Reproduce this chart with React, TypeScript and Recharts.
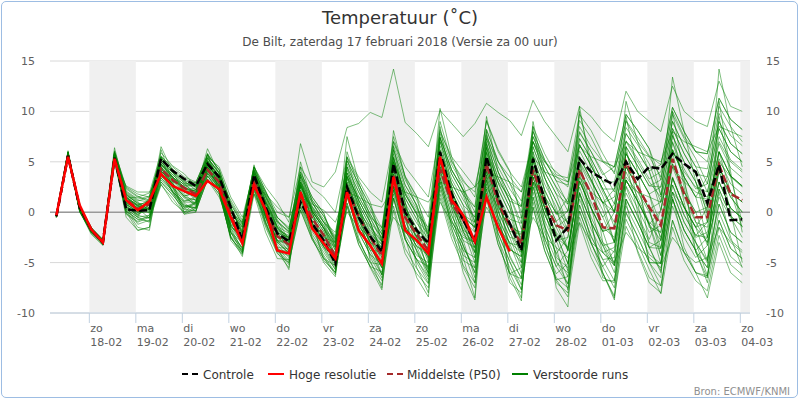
import {
  LineChart,
  Line,
  XAxis,
  YAxis,
  CartesianGrid,
  ReferenceArea,
  ReferenceLine,
} from 'recharts';

// hours since zaterdag 17-02 00:00, 6-hourly steps
const HOURS = [
  7, 13, 19, 25, 31, 37, 43, 49, 55, 61, 67, 73, 79, 85, 91, 97, 103, 109, 115, 121,
  127, 133, 139, 145, 151, 157, 163, 169, 175, 181, 187, 193, 199, 205, 211, 217, 223, 229, 235, 241,
  247, 253, 259, 265, 271, 277, 283, 289, 295, 301, 307, 313, 319, 325, 331, 337, 343, 349, 355, 361,
];

const DAY_TICKS = [24, 48, 72, 96, 120, 144, 168, 192, 216, 240, 264, 288, 312, 336, 360];
const DAY_NAMES = ['zo', 'ma', 'di', 'wo', 'do', 'vr', 'za', 'zo', 'ma', 'di', 'wo', 'do', 'vr', 'za', 'zo'];
const DAY_DATES = ['18-02', '19-02', '20-02', '21-02', '22-02', '23-02', '24-02', '25-02', '26-02', '27-02', '28-02', '01-03', '02-03', '03-03', '04-03'];
const SHADED_DAYS = [24, 72, 120, 168, 216, 264, 312, 360];
const Y_TICKS = [-10, -5, 0, 5, 10, 15];

const CONTROLE = [
  -0.4, 5.6, 0.5, -1.7, -3.0, 5.4, 0.3, 0.15, 0.2, 5.3, 4.1, 3.3, 2.6, 4.8, 3.5, 0.5,
  -2.8, 3.7, 0.5, -2.1, -2.9, 1.0, -1.1, -2.8, -5.1, 2.5, -0.5, -2.4, -3.9, 4.8, 0.0, -1.8,
  -3.1, 6.0, 1.8, -0.8, -2.9, 5.5, 1.5, -1.1, -3.8, 5.3, 1.2, -2.8, -1.5, 5.3, 4.0, 3.3,
  2.7, 5.0, 3.3, 4.5, 4.3, 5.8, 4.8, 4.0, 0.9, 4.7, -0.8, -0.7,
];

const HOGE_RESOLUTIE = [
  -0.3, 5.5, 0.7, -1.7, -3.0, 5.3, 1.2, 0.2, 1.1, 3.8, 2.6, 2.1, 1.6, 3.1, 2.3, -0.5,
  -3.1, 2.7, 0.2, -3.8, -4.1, 2.0, -1.6, -3.1, -4.6, 2.0, -1.8, -3.3, -5.1, 3.5, -1.8, -2.8,
  -4.1, 5.5, 1.2, -0.3, -2.9, 1.5, -1.5, -3.9,
];

const MIDDELSTE = [
  -0.4, 5.6, 0.5, -1.8, -3.0, 5.3, 1.3, 0.3, 0.8, 4.3, 3.2, 2.4, 1.8, 4.2, 3.0, -0.3,
  -2.7, 3.2, 0.2, -2.4, -3.2, 1.8, -0.6, -2.3, -4.4, 2.3, -0.4, -2.5, -4.3, 3.6, -0.5, -2.2,
  -3.8, 4.3, 0.9, -0.8, -2.9, 4.8, 0.9, -1.3, -3.1, 4.2, 0.9, -1.3, -1.8, 4.2, 1.8, -1.5,
  -1.6, 5.0, 2.5, 0.5, -1.3, 5.3, 1.8, -0.5, -0.5, 4.7, 1.8, 1.2,
];

// verstoorde runs (ensemble members)
const M01 = [-0.4,5.9,0.4,-1.7, -2.9,5.7,1.5,0.7, 1.1,5.0,3.7,2.7, 2.0,5.0,3.5,-0.2, -2.4,3.5,0.5,-2.1, -3.6,1.7,-1.1,-2.8, -5.1,1.8,-1.6,-3.8, -3.9,4.2,0.5,-1.6, -2.9,6.6,3.3,1.2, -0.5,7.3,4.0,1.7, -1.7,6.0,2.8,0.5, -3.8,3.1,0.4,-1.9, -1.5,4.5,2.5,0.3, 1.0,6.9,4.3,2.3, 2.8,8.3,6.0,5.0];
const M02 = [-0.5,5.7,0.2,-2.0, -3.2,5.2,0.3,-0.5, -0.3,3.4,2.1,0.7, 0.4,3.6,2.1,-2.0, -3.9,2.3,-1.3,-3.9, -4.3,1.0,-1.9,-3.7, -5.7,0.9,-2.8,-5.0, -6.8,0.6,-3.6,-5.6, -7.1,1.8,-2.1,-4.8, -5.5,2.8,-1.6,-4.3, -6.6,1.5,-2.6,-5.4, -7.1,0.1,-3.1,-5.4, -3.8,2.6,0.4,-2.0, -1.3,4.8,2.0,0.0, 0.5,6.0,3.6,2.6];
const M03 = [-0.3,6.0,0.5,-1.6, -2.8,5.9,2.1,1.3, 1.6,5.6,4.3,3.3, 2.9,5.7,4.2,0.8, -1.2,4.5,2.1,-0.5, -1.7,4.0,1.5,-0.1, -3.1,4.5,2.0,-0.2, -2.2,6.2,2.7,0.7, -2.2,7.4,4.2,2.2, 0.5,8.2,5.0,2.9, 1.1,8.5,5.8,3.7, 3.4,9.7,8.1,5.8, 3.8,9.1,7.4,5.6, 4.7,10.4,8.0,6.0, 5.8,11.3,9.2,8.2];
const M04 = [-0.4,5.7,0.2,-1.9, -3.2,5.2,0.1,-0.7, -0.5,3.2,1.9,0.5, 1.0,4.1,2.6,-1.4, -2.4,3.5,0.5,-2.1, -2.5,3.0,0.3,-1.3, -3.8,3.6,0.8,-1.4, -4.5,3.4,-0.5,-2.5, -5.7,3.4,-0.3,-2.8, -6.5,1.9,-2.7,-5.5, -7.7,0.5,-3.8,-6.7, -8.4,-1.1,-4.5,-6.8, -6.8,-0.1,-2.4,-5.0, -5.1,1.3,-1.8,-3.8, -7.0,-1.5,-4.4,-5.4];
const M05 = [-0.3,5.9,0.5,-1.6, -2.9,5.6,1.4,0.6, 0.8,4.7,3.4,2.2, 2.2,5.1,3.6,0.0, -1.5,4.2,1.7,-0.9, -1.9,3.7,1.2,-0.4, -2.4,5.4,3.2,1.0, -2.9,5.4,1.8,-0.2, -4.3,5.0,1.5,-0.8, -2.0,5.9,2.3,-0.1, -0.6,7.0,4.0,1.8, 0.8,7.3,5.3,3.0, 3.0,8.4,6.7,4.8, 1.7,7.6,5.0,3.0, 0.5,6.0,3.6,2.6];
const M06 = [-0.5,5.7,0.1,-2.0, -3.0,5.5,1.0,0.2, 0.2,3.9,2.6,1.4, 0.8,3.9,2.4,-1.6, -3.0,3.0,-0.2,-2.8, -3.2,2.2,-0.5,-2.2, -4.9,2.1,-1.2,-3.4, -5.5,2.2,-1.8,-3.8, -6.4,2.6,-1.2,-3.8, -7.0,1.4,-3.2,-6.1, -5.5,2.5,-1.4,-4.1, -2.5,4.3,1.8,-0.5, 0.8,6.5,4.6,2.6, 3.2,9.0,6.5,4.5, 4.3,9.8,7.6,6.6];
const M07 = [-0.4,5.8,0.3,-1.8, -2.8,5.8,1.7,0.9, 0.7,4.5,3.2,2.0, 1.5,4.5,3.0,-0.8, -3.0,3.0,-0.2,-2.8, -4.1,1.2,-1.6,-3.4, -4.6,2.4,-0.8,-3.0, -3.5,4.6,0.9,-1.1, -2.6,7.0,3.8,1.7, 0.5,8.2,5.1,2.9, 0.0,7.5,4.6,2.4, 0.1,6.7,4.6,2.3, 0.0,5.8,3.9,1.8, -2.8,3.4,0.5,-1.5, -4.8,0.8,-2.0,-3.0];
const M08 = [-0.4,5.8,0.3,-1.8, -3.0,5.4,0.8,0.0, 1.3,5.2,3.9,2.9, 2.6,5.4,3.9,0.4, -2.1,3.8,1.0,-1.6, -2.5,3.0,0.3,-1.3, -3.1,4.5,2.0,-0.2, -2.2,6.2,2.7,0.7, -3.3,6.2,2.9,0.7, -4.0,4.1,0.1,-2.5, -5.5,2.5,-1.4,-4.1, -6.4,0.7,-2.4,-4.7, -6.8,0.0,-2.4,-5.0, -7.3,-0.8,-4.0,-6.0, -6.3,-0.8,-3.6,-4.6];
const M09 = [-0.4,5.8,0.3,-1.9, -2.7,6.0,2.3,1.5, 1.9,5.9,4.6,3.8, 2.6,5.4,3.9,0.4, -1.9,3.9,1.2,-1.4, -2.8,2.7,0.1,-1.6, -4.2,3.0,0.0,-2.2, -4.9,3.0,-0.9,-2.9, -4.0,5.4,2.0,-0.3, -1.5,6.4,2.9,0.5, -2.8,5.0,1.6,-0.9, -3.8,3.1,0.4,-1.9, -5.3,1.3,-1.0,-3.5, -2.8,3.4,0.5,-1.5, 0.5,6.0,3.6,2.6];
const M10 = [-0.3,5.9,0.4,-1.7, -3.2,5.1,-0.1,-0.9, -0.3,3.4,2.1,0.7, 0.4,3.6,2.1,-2.0, -4.0,2.1,-1.5,-4.1, -5.0,0.2,-2.7,-4.6, -5.3,1.5,-2.0,-4.2, -5.2,2.6,-1.4,-3.4, -6.1,3.0,-0.8,-3.3, -6.0,2.3,-2.1,-4.9, -7.2,1.0,-3.2,-6.1, -5.1,1.9,-1.0,-3.3, -3.0,3.2,1.1,-1.2, 0.2,6.2,3.5,1.5, 1.3,6.8,4.4,3.4];
const M11 = [-0.4,5.8,0.4,-1.7, -2.9,5.8,2.0,1.2, 1.0,5.5,4.0,3.0, 2.5,5.8,4.2,1.0, -1.0,4.5,2.5,1.0, -1.0,6.8,3.0,2.5, 4.0,8.4,8.8,9.9, 9.4,14.2,8.9,7.8, 6.5,10.1,8.8,7.5, 8.8,10.8,9.9,9.1, 7.6,11.1,9.0,7.5, 6.0,10.5,9.5,8.0, 7.0,12.0,10.0,9.0, 8.0,12.5,10.0,9.0, 8.5,13.0,10.5,10.0];
const M12 = [-0.4,5.8,0.3,-1.8, -3.0,5.6,1.2,0.4, 0.3,4.1,2.8,1.6, 1.9,4.8,3.3,-0.4, -1.9,3.9,1.2,-1.4, -2.1,3.5,0.9,-0.7, -2.9,4.8,2.4,0.2, -1.9,6.6,3.2,1.2, -1.8,7.8,4.7,2.7, -1.0,6.8,3.4,1.1, -3.3,4.5,1.0,-1.5, -3.8,3.1,0.4,-1.9, 0.0,5.8,3.9,1.8, 2.5,8.3,5.8,3.8, 3.5,9.0,6.8,5.8];
const M13 = [-0.5,5.7,0.1,-2.1, -3.1,5.3,0.5,-0.3, -0.6,3.0,1.7,0.3, 0.1,3.3,1.8,-2.4, -3.5,2.6,-0.9,-3.5, -3.6,1.7,-1.1,-2.8, -4.0,3.3,0.4,-1.8, -3.2,5.0,1.4,-0.7, -4.3,5.0,1.5,-0.8, -4.5,3.7,-0.5,-3.1, -6.1,2.0,-2.0,-4.8, -7.1,0.1,-3.1,-5.4, -7.5,-0.7,-3.1,-5.7, -8.1,-1.5,-4.8,-6.8, -7.8,-2.3,-5.2,-6.2];
const M14 = [-0.3,6.0,0.5,-1.6, -2.7,6.1,2.4,1.6, 1.0,4.8,3.5,2.5, 1.1,4.2,2.7,-1.2, -3.3,2.7,-0.6,-3.2, -4.5,0.7,-2.2,-4.0, -5.7,0.9,-2.8,-5.0, -5.2,2.6,-1.4,-3.4, -4.0,5.4,2.0,-0.3, -1.0,6.8,3.4,1.1, 0.6,8.0,5.2,3.1, 2.7,9.1,7.4,5.1, 4.5,9.7,8.1,6.3, 3.2,9.0,6.5,4.5, 2.0,7.5,5.2,4.2];
const M15 = [-0.4,5.8,0.3,-1.8, -3.0,5.4,0.8,0.0, 0.7,4.5,3.2,2.0, 2.2,5.1,3.6,0.0, -1.7,4.1,1.5,-1.1, -3.0,2.5,-0.2,-1.9, -4.6,2.4,-0.8,-3.0, -6.2,1.4,-2.7,-4.7, -6.7,2.2,-1.7,-4.3, -5.0,3.2,-1.0,-3.7, -4.4,3.5,-0.2,-2.8, -1.2,5.5,3.2,0.9, 2.3,7.8,6.0,4.1, 4.7,10.4,8.0,6.0, 5.8,11.3,9.2,8.2];
const M16 = [-0.5,5.7,0.2,-2.0, -2.9,5.7,1.5,0.7, 0.0,3.8,2.5,1.1, 1.3,4.4,2.9,-1.0, -2.2,3.6,0.8,-1.8, -2.3,3.2,0.6,-1.0, -2.7,5.1,2.8,0.6, -1.6,7.0,3.6,1.6, -2.6,7.0,3.8,1.7, -2.0,5.9,2.3,-0.1, -3.9,4.0,0.4,-2.2, -5.1,1.9,-1.0,-3.3, -5.3,1.3,-1.0,-3.5, -3.6,2.7,-0.3,-2.3, -2.5,3.0,0.4,-0.6];
const M17 = [-0.3,5.9,0.4,-1.7, -3.2,5.2,0.3,-0.5, 1.5,5.4,4.1,3.1, 2.9,5.7,4.2,0.8, -1.2,4.5,2.1,-0.5, -1.7,4.0,1.5,-0.1, -3.5,3.9,1.2,-1.0, -4.2,3.8,0.0,-2.0, -5.0,4.2,0.6,-1.8, -5.0,3.2,-1.0,-3.7, -4.4,3.5,-0.2,-2.8, -2.5,4.3,1.8,-0.5, -3.0,3.2,1.1,-1.2, -5.1,1.3,-1.8,-3.8, -5.5,0.0,-2.8,-3.8];
const M18 = [-0.4,5.8,0.3,-1.8, -2.9,5.6,1.4,0.6, -0.1,3.6,2.3,0.9, 0.1,3.3,1.8,-2.4, -4.4,1.8,-2.0,-4.6, -4.7,0.5,-2.5,-4.3, -6.0,0.6,-3.2,-5.4, -7.2,0.2,-4.1,-6.1, -7.5,1.4,-2.6,-5.3, -7.0,1.4,-3.2,-6.1, -6.6,1.5,-2.6,-5.4, -3.8,3.1,0.4,-1.9, -1.5,4.5,2.5,0.3, -4.3,2.0,-1.0,-3.0, -4.8,0.8,-2.0,-3.0];
const M19 = [-0.4,5.7,0.2,-1.9, -3.0,5.6,1.2,0.4, 1.0,4.8,3.5,2.5, 1.7,4.7,3.2,-0.6, -2.8,3.2,0.1,-2.5, -2.8,2.7,0.1,-1.6, -3.3,4.2,1.6,-0.6, -2.6,5.8,2.3,0.3, -2.2,7.4,4.2,2.2, 0.0,7.7,4.5,2.3, 0.6,8.0,5.2,3.1, 0.8,7.3,5.3,3.0, 0.8,6.5,4.6,2.6, 2.5,8.3,5.8,3.8, -0.3,5.3,2.8,1.8];
const M20 = [-0.3,5.9,0.5,-1.6, -3.1,5.4,0.6,-0.2, 0.3,4.1,2.8,1.6, 2.0,5.0,3.5,-0.2, -2.6,3.3,0.3,-2.3, -3.9,1.5,-1.3,-3.1, -5.1,1.8,-1.6,-3.8, -6.2,1.4,-2.7,-4.7, -5.4,3.8,0.2,-2.3, -3.0,5.0,1.2,-1.3, -2.2,5.5,2.2,-0.2, 0.1,6.7,4.6,2.3, 2.3,7.8,6.0,4.1, 0.2,6.2,3.5,1.5, -2.5,3.0,0.4,-0.6];
const M21 = [-0.4,5.8,0.3,-1.8, -2.8,5.9,1.9,1.1, 1.5,5.4,4.1,3.1, 2.2,5.1,3.6,0.0, -1.5,4.2,1.7,-0.9, -1.9,3.7,1.2,-0.4, -2.7,5.1,2.8,0.6, -2.9,5.4,1.8,-0.2, -3.6,5.8,2.4,0.2, -3.0,5.0,1.2,-1.3, -4.4,3.5,-0.2,-2.8, -5.8,1.3,-1.7,-4.0, -5.3,1.3,-1.0,-3.5, -5.8,0.6,-2.5,-4.5, -3.3,2.3,-0.4,-1.4];
const M22 = [-0.4,5.7,0.2,-1.9, -3.0,5.4,0.8,0.0, 0.0,3.8,2.5,1.1, 1.5,4.5,3.0,-0.8, -3.1,2.9,-0.4,-3.0, -4.1,1.2,-1.6,-3.4, -5.3,1.5,-2.0,-4.2, -6.2,1.4,-2.7,-4.7, -6.4,2.6,-1.2,-3.8, -4.5,3.7,-0.5,-3.1, -3.3,4.5,1.0,-1.5, -0.6,6.1,3.9,1.6, -1.5,4.5,2.5,0.3, -3.6,2.7,-0.3,-2.3, -1.0,4.5,2.0,1.0];
const M23 = [-0.4,5.9,0.4,-1.7, -2.9,5.7,1.5,0.7, 1.1,5.0,3.7,2.7, 2.6,5.4,3.9,0.4, -2.2,3.6,0.8,-1.8, -3.2,2.2,-0.5,-2.2, -4.4,2.7,-0.4,-2.6, -4.2,3.8,0.0,-2.0, -3.3,6.2,2.9,0.7, -0.5,7.3,4.0,1.7, -1.1,6.5,3.4,1.1, -1.2,5.5,3.2,0.9, 1.5,7.1,5.3,3.3, 4.0,9.7,7.3,5.3, 2.8,8.3,6.0,5.0];
const M24 = [-0.4,5.8,0.3,-1.8, -3.2,5.2,0.1,-0.7, -0.9,2.7,1.4,-0.2, 0.4,3.6,2.1,-2.0, -3.0,3.0,-0.2,-2.8, -2.8,2.7,0.1,-1.6, -3.5,3.9,1.2,-1.0, -3.9,4.2,0.5,-1.6, -4.7,4.6,1.1,-1.3, -4.0,4.1,0.1,-2.5, -2.8,5.0,1.6,-0.9, 0.1,6.7,4.6,2.3, 0.0,5.8,3.9,1.8, -1.3,4.8,2.0,0.0, -3.3,2.3,-0.4,-1.4];
const M25 = [-0.5,5.7,0.1,-2.0, -2.9,5.6,1.4,0.6, 0.5,4.3,3.0,1.8, 0.8,3.9,2.4,-1.6, -3.7,2.4,-1.1,-3.7, -3.9,1.5,-1.3,-3.1, -4.2,3.0,0.0,-2.2, -3.2,5.0,1.4,-0.7, -2.2,7.4,4.2,2.2, -1.5,6.4,2.9,0.5, -3.9,4.0,0.4,-2.2, -5.1,1.9,-1.0,-3.3, -6.0,0.6,-1.7,-4.2, -5.1,1.3,-1.8,-3.8, -2.5,3.0,0.4,-0.6];
const M26 = [-0.4,5.9,0.4,-1.7, -3.0,5.5,1.0,0.2, 1.0,4.8,3.5,2.5, 1.9,4.8,3.3,-0.4, -2.1,3.8,1.0,-1.6, -3.0,2.5,-0.2,-1.9, -4.9,2.1,-1.2,-3.4, -5.5,2.2,-1.8,-3.8, -5.7,3.4,-0.3,-2.8, -3.5,4.6,0.7,-1.9, -2.2,5.5,2.2,-0.2, 1.4,7.9,6.0,3.7, 4.5,9.7,8.1,6.3, 1.7,7.6,5.0,3.0, -1.0,4.5,2.0,1.0];
const M27 = [-0.4,5.8,0.3,-1.8, -2.8,5.8,1.7,0.9, 0.3,4.1,2.8,1.6, 0.6,3.8,2.3,-1.8, -3.7,2.4,-1.1,-3.7, -5.0,0.2,-2.7,-4.6, -6.0,0.6,-3.2,-5.4, -5.9,1.8,-2.3,-4.3, -5.0,4.2,0.6,-1.8, -2.5,5.5,1.8,-0.7, -1.1,6.5,3.4,1.1, -1.9,4.9,2.5,0.2, -3.0,3.2,1.1,-1.2, -4.3,2.0,-1.0,-3.0, -6.3,-0.8,-3.6,-4.6];
const M28 = [-0.4,5.7,0.2,-1.9, -3.1,5.3,0.5,-0.3, 0.8,4.7,3.4,2.2, 2.4,5.3,3.8,0.2, -1.3,4.4,1.9,-0.7, -2.8,2.7,0.1,-1.6, -3.8,3.6,0.8,-1.4, -2.9,5.4,1.8,-0.2, -1.5,8.2,5.1,3.2, 1.5,9.1,6.2,4.1, -0.6,7.0,4.0,1.8, -1.2,5.5,3.2,0.9, -3.0,3.2,1.1,-1.2, -2.8,3.4,0.5,-1.5, -1.0,4.5,2.0,1.0];
const M29 = [-0.3,5.9,0.4,-1.7, -3.0,5.6,1.2,0.4, -0.6,3.0,1.7,0.3, 1.0,4.1,2.6,-1.4, -2.4,3.5,0.5,-2.1, -3.4,2.0,-0.8,-2.5, -3.5,3.9,1.2,-1.0, -4.2,3.8,0.0,-2.0, -6.1,3.0,-0.8,-3.3, -6.0,2.3,-2.1,-4.9, -7.7,0.5,-3.8,-6.7, -6.4,0.7,-2.4,-4.7, -4.5,1.9,-0.3,-2.7, 0.2,6.2,3.5,1.5, 3.5,9.0,6.8,5.8];
const M30 = [-0.4,5.7,0.3,-1.8, -3.1,5.4,0.6,-0.2, 1.3,5.2,3.9,2.9, 1.7,4.7,3.2,-0.6, -3.1,2.9,-0.4,-3.0, -2.8,2.7,0.1,-1.6, -4.4,2.7,-0.4,-2.6, -5.2,2.6,-1.4,-3.4, -4.3,5.0,1.5,-0.8, -3.5,4.6,0.7,-1.9, -5.0,3.0,-0.8,-3.5, -7.7,-0.5,-3.8,-6.1, -8.3,-1.4,-3.8,-6.5, -7.3,-0.8,-4.0,-6.0, -8.5,-3.0,-6.0,-7.0];
const M31 = [-0.4,5.8,0.3,-1.9, -3.1,5.6,0.2,-1.5, -1.8,4.6,2.0,0.5, 0.8,5.2,2.6,-2.8, -4.2,3.8,-0.5,-3.5, -4.8,3.5,-1.0,-4.5, -6.2,4.5,0.5,-4.8, -7.5,5.5,0.0,-5.5, -8.0,7.5,1.5,-4.5, -8.5,7.0,0.5,-6.5, -8.8,6.0,-1.0,-7.5, -9.4,5.0,-1.0,-6.0, -8.5,6.5,1.0,-5.0, -6.5,8.0,2.5,-3.0, -5.0,9.5,3.5,-1.0];
const M32 = [-0.4,5.7,0.5,-1.5, -2.7,5.2,2.6,2.0, 2.0,3.5,3.0,2.6, 2.6,3.8,3.2,1.2, -0.8,2.6,1.8,0.5, -0.5,1.5,0.8,0.2, -1.0,2.0,1.5,0.8, 0.5,2.5,2.0,1.5, 1.0,3.0,2.5,2.0, 2.5,4.0,3.5,3.0, 2.0,5.5,4.0,3.5, 3.0,6.5,5.5,5.0, 4.5,7.0,6.0,5.5, 5.0,8.0,7.0,6.5, 6.0,8.5,8.0,7.5];
const M33 = [-0.5,5.9,0.1,-2.2, -3.3,5.9,0.0,-1.8, -1.5,6.2,3.0,0.0, 1.0,5.8,2.0,-2.6, -3.8,4.5,0.0,-3.8, -5.2,4.5,0.0,-3.5, -5.5,6.0,2.5,-1.0, -2.5,7.5,3.5,1.5, -0.5,9.0,5.0,3.0, 2.0,9.0,6.0,4.0, 2.5,7.0,4.5,2.5, 1.0,5.0,3.0,1.0, -1.0,3.5,2.0,0.0, -2.5,2.0,0.5,-1.5, -3.0,1.5,-0.5,-2.5];
const M34 = [-0.4,5.8,0.2,-2.0, -3.2,5.4,-0.5,-1.8, -1.5,4.0,2.0,-0.2, 0.0,4.8,2.2,-2.5, -4.1,3.0,-1.0,-4.0, -5.5,2.0,-2.5,-5.0, -6.4,2.0,-2.5,-5.5, -7.7,2.5,-2.5,-6.5, -8.4,3.5,-1.5,-6.0, -8.7,3.5,-2.5,-7.0, -8.0,3.0,-3.0,-6.5, -7.5,2.0,-3.0,-6.0, -8.7,1.0,-4.0,-7.0, -8.0,1.5,-3.5,-6.0, -6.5,2.0,-2.5,-5.5];
const M35 = [-0.3,6.1,0.6,-1.6, -2.9,6.4,1.8,0.8, 0.2,6.5,4.0,2.0, 2.2,6.3,3.8,0.5, -2.0,4.7,1.0,-1.5, -3.0,5.0,1.0,-1.0, -3.5,7.5,3.0,-0.5, -3.0,8.1,3.5,0.5, -2.0,10.3,5.5,2.0, -1.0,9.5,4.0,1.0, -3.0,9.0,3.5,0.0, -2.0,10.0,5.0,2.0, 0.0,11.0,7.0,4.0, 1.0,13.4,8.0,3.0, 0.0,14.2,8.5,4.5];
const M36 = [-0.4,5.6,0.0,-1.9, -3.0,5.0,-0.2,-1.0, -0.5,2.8,1.0,0.0, 0.2,3.2,1.5,-1.2, -2.0,1.8,-0.5,-2.0, -2.5,0.5,-1.5,-2.5, -3.0,0.0,-1.5,-2.5, -3.5,-0.5,-2.0,-3.0, -3.5,1.0,-1.0,-2.5, -3.0,0.5,-1.5,-3.0, -4.0,-0.5,-2.5,-3.5, -4.5,-1.0,-3.0,-4.0, -5.0,-2.0,-3.5,-4.5, -5.5,-2.5,-4.0,-5.0, -4.5,-1.5,-3.0,-4.0];
const M37 = [-0.4,5.8,0.4,-1.8, -3.0,5.8,0.5,-1.2, -0.8,5.5,2.5,0.5, 0.5,5.8,2.8,-2.0, -3.5,4.2,0.5,-3.0, -4.0,3.8,0.0,-3.0, -5.0,5.5,1.0,-3.5, -5.5,6.5,1.0,-4.0, -6.0,8.5,2.5,-3.5, -5.5,8.0,2.0,-4.5, -6.5,8.5,2.0,-5.0, -6.0,10.5,4.0,-3.0, -5.0,9.5,4.0,-3.5, -6.0,10.0,3.5,-4.0, -5.5,11.0,4.0,-2.0];
const M38 = [-0.5,5.9,0.3,-1.7, -2.9,5.5,1.2,0.5, 0.8,4.0,3.2,2.5, 2.0,4.0,3.0,0.5, -1.5,3.0,1.0,-1.0, -2.0,2.0,0.5,-1.0, -2.5,1.5,0.0,-1.5, -3.0,3.5,0.5,-2.5, -4.5,4.0,1.0,-2.0, -3.0,2.5,0.5,-1.5, -2.0,3.0,1.5,0.0, -1.0,3.5,2.0,1.0, 0.0,3.0,2.0,1.5, 1.0,4.5,3.0,2.0, 1.5,5.0,3.5,2.5];
const M39 = [-0.4,5.8,0.3,-1.8, -3.0,5.5,0.8,-0.5, -1.0,4.5,2.5,0.0, 0.5,4.5,2.0,-2.5, -4.0,3.5,-0.5,-3.5, -5.7,3.0,-1.0,-4.8, -6.0,3.5,-0.5,-4.5, -6.5,4.5,-0.5,-5.0, -7.0,5.5,0.5,-5.5, -7.5,5.0,-0.5,-6.0, -8.5,4.5,-1.5,-7.0, -8.0,4.0,-1.0,-6.5, -7.0,5.0,0.0,-5.0, -5.0,6.0,1.0,-4.0, -6.5,5.0,0.0,-5.0];
const M40 = [-0.3,5.9,0.6,-1.5, -2.8,6.0,2.5,1.8, 1.5,5.5,4.5,3.5, 3.0,5.5,4.5,1.5, -0.5,4.0,2.0,0.0, -0.5,4.5,2.5,1.5, 0.0,5.5,3.5,2.0, 1.0,7.0,4.5,3.0, 1.5,8.0,5.5,4.0, 2.5,7.5,5.0,3.5, 2.0,7.0,5.0,4.0, 3.0,8.5,6.5,5.0, 4.0,9.0,7.0,5.5, 3.5,10.0,7.5,6.0, 5.0,10.5,8.5,7.0];
const M41 = [-0.4,5.8,0.2,-1.8, -3.1,5.3,1.8,1.0, 0.2,3.8,2.0,1.0, 1.0,4.5,2.5,-1.5, -2.5,3.5,0.5,-2.0, -3.5,1.5,-1.5,-3.5, -4.5,3.5,0.5,-3.0, -4.0,5.0,1.0,-3.0, -5.5,6.0,2.5,-2.0, -4.0,6.5,1.5,-3.5, -5.0,5.5,0.5,-4.5, -5.5,5.0,0.5,-4.0, -3.5,6.0,2.5,-1.5, -2.0,7.0,3.0,-1.0, -3.0,6.0,2.0,-1.5];
const M42 = [-0.4,5.7,0.4,-1.8, -3.0,5.7,1.0,0.0, 0.5,5.0,3.5,2.0, 1.5,5.0,3.5,-0.5, -2.5,4.0,1.5,-1.5, -2.5,3.0,1.0,-1.0, -2.0,3.5,1.5,-0.5, -1.5,5.0,2.0,0.0, -2.5,4.5,2.0,-0.5, -1.5,4.0,1.5,-1.0, -2.5,3.0,0.5,-2.0, -3.5,2.5,-0.5,-3.0, -4.0,2.5,-0.5,-3.0, -3.5,3.5,0.5,-2.5, -2.0,4.0,1.5,0.0];
const M43 = [-0.4,5.8,0.3,-1.8, -3.0,5.4,1.4,1.5, 1.2,4.2,3.4,2.8, 2.8,4.6,3.4,0.0, -1.0,3.6,1.5,-0.5, -1.5,2.8,0.5,-1.5, -3.0,2.5,0.5,-2.0, -3.5,3.0,0.0,-2.5, -3.0,4.5,1.5,-0.5, -1.5,6.0,3.0,1.5, 0.5,7.5,5.0,3.5, 2.5,8.0,6.0,4.0, 2.0,7.0,5.0,3.0, 1.5,6.0,4.0,2.5, 2.0,7.0,5.0,4.0];
const M44 = [-0.4,5.8,0.3,-1.7, -3.0,5.6,0.9,0.3, 0.4,4.4,2.8,1.5, 1.2,4.2,2.6,-1.2, -3.0,3.0,0.0,-2.8, -3.8,1.8,-1.0,-3.0, -4.8,2.8,-0.5,-3.0, -4.5,3.5,-0.5,-2.5, -4.5,5.0,1.0,-1.5, -3.5,4.5,1.0,-2.0, -4.0,4.0,0.5,-2.5, -3.5,3.5,1.0,-1.5, -2.5,4.0,1.5,-1.0, -2.0,4.5,1.5,-1.0, -1.5,4.0,1.5,0.0];

const ENSEMBLE = [
  M01, M02, M03, M04, M05, M06, M07, M08, M09, M10, M11,
  M12, M13, M14, M15, M16, M17, M18, M19, M20, M21, M22,
  M23, M24, M25, M26, M27, M28, M29, M30, M31, M32, M33,
  M34, M35, M36, M37, M38, M39, M40, M41, M42, M43, M44,
];

const FONT = '"DejaVu Sans", Verdana, sans-serif';

const data = HOURS.map((t, i) => {
  const row: Record<string, number | null> = {
    t,
    ctrl: CONTROLE[i],
    hres: i < HOGE_RESOLUTIE.length ? HOGE_RESOLUTIE[i] : null,
    p50: MIDDELSTE[i],
  };
  ENSEMBLE.forEach((m, k) => {
    row['m' + k] = m[i];
  });
  return row;
});

function DayTick(props: any) {
  const { x, y, payload } = props;
  const i = DAY_TICKS.indexOf(payload.value);
  return (
    <g>
      <text x={x + 1} y={y + 7} textAnchor="start" fontSize={11} fill="#606060" fontFamily={FONT}>
        {DAY_NAMES[i]}
      </text>
      <text x={x + 1} y={y + 20.5} textAnchor="start" fontSize={11} fill="#606060" fontFamily={FONT}>
        {DAY_DATES[i]}
      </text>
    </g>
  );
}

export default function App() {
  const legendItems = [
    { label: 'Controle', color: '#000000', dash: '6 4', sx: 182, tx: 203 },
    { label: 'Hoge resolutie', color: '#ff0000', dash: undefined, sx: 268, tx: 289 },
    { label: 'Middelste (P50)', color: '#a52a2a', dash: '6 4', sx: 387, tx: 407 },
    { label: 'Verstoorde runs', color: '#008000', dash: undefined, sx: 512, tx: 533 },
  ];

  return (
    <div style={{ position: 'absolute', left: 0, top: 0, width: 800, height: 400, background: '#fff' }}>
      <div
        style={{
          position: 'absolute',
          left: 1,
          top: 1,
          width: 797,
          height: 397,
          boxSizing: 'border-box',
          border: '1px solid #9dbde3',
          borderRadius: 5,
        }}
      />
      <LineChart
        width={800}
        height={400}
        data={data}
        margin={{ top: 61, right: 0, bottom: 0, left: 0 }}
        style={{ position: 'absolute', left: 0, top: 0, fontFamily: FONT }}
      >
        {SHADED_DAYS.map((s) => (
          <ReferenceArea
            key={s}
            yAxisId="left"
            x1={s}
            x2={Math.min(s + 24, 365)}
            fill="#f0f0f0"
            fillOpacity={1}
            stroke="none"
          />
        ))}
        <CartesianGrid yAxisId="left" vertical={false} stroke="#d8d8d8" />
        <XAxis
          dataKey="t"
          type="number"
          domain={[3.7, 365]}
          ticks={DAY_TICKS}
          interval={0}
          height={87}
          tick={<DayTick />}
          tickSize={10}
          tickMargin={2}
          tickLine={{ stroke: '#c0d0e0' }}
          axisLine={{ stroke: '#c0d0e0' }}
          allowDataOverflow
        />
        <YAxis
          yAxisId="left"
          type="number"
          domain={[-10, 15]}
          ticks={Y_TICKS}
          width={50}
          axisLine={false}
          tickLine={false}
          tickSize={0}
          tickMargin={15}
          tick={{ fontSize: 11, fill: '#606060', fontFamily: FONT }}
          allowDataOverflow
        />
        <YAxis
          yAxisId="right"
          orientation="right"
          type="number"
          domain={[-10, 15]}
          ticks={Y_TICKS}
          width={50}
          axisLine={false}
          tickLine={false}
          tickSize={0}
          tickMargin={16}
          tick={{ fontSize: 11, fill: '#606060', fontFamily: FONT, textAnchor: 'start' }}
          allowDataOverflow
        />
        <ReferenceLine yAxisId="left" y={0} stroke="#999999" strokeWidth={1.5} />
        {ENSEMBLE.map((_, k) => (
          <Line
            key={k}
            yAxisId="left"
            dataKey={'m' + k}
            stroke="#008000"
            strokeOpacity={0.5}
            strokeWidth={1}
            dot={false}
            activeDot={false}
            isAnimationActive={false}
          />
        ))}
        <Line
          yAxisId="left"
          dataKey="p50"
          stroke="#a52a2a"
          strokeWidth={2.5}
          strokeDasharray="8 3"
          dot={false}
          activeDot={false}
          isAnimationActive={false}
        />
        <Line
          yAxisId="left"
          dataKey="ctrl"
          stroke="#000000"
          strokeWidth={2.5}
          strokeDasharray="8 3"
          dot={false}
          activeDot={false}
          isAnimationActive={false}
        />
        <Line
          yAxisId="left"
          dataKey="hres"
          stroke="#ff0000"
          strokeWidth={2.5}
          dot={false}
          activeDot={false}
          connectNulls={false}
          isAnimationActive={false}
        />
      </LineChart>
      <svg
        width={800}
        height={400}
        style={{ position: 'absolute', left: 0, top: 0, pointerEvents: 'none', fontFamily: FONT }}
      >
        <text x={400} y={24} textAnchor="middle" fontSize={18} fill="#333333">
          Temperatuur (˚C)
        </text>
        <text x={400} y={46} textAnchor="middle" fontSize={12} fill="#4d4d4d">
          De Bilt, zaterdag 17 februari 2018 (Versie za 00 uur)
        </text>
        {legendItems.map((it) => (
          <g key={it.label}>
            <line
              x1={it.sx}
              x2={it.sx + 16}
              y1={374}
              y2={374}
              stroke={it.color}
              strokeWidth={2}
              strokeDasharray={it.dash}
            />
            <text x={it.tx} y={378.5} fontSize={12} fill="#333333">
              {it.label}
            </text>
          </g>
        ))}
        <text x={790} y={395} textAnchor="end" fontSize={10} fill="#909090">
          Bron: ECMWF/KNMI
        </text>
      </svg>
    </div>
  );
}
